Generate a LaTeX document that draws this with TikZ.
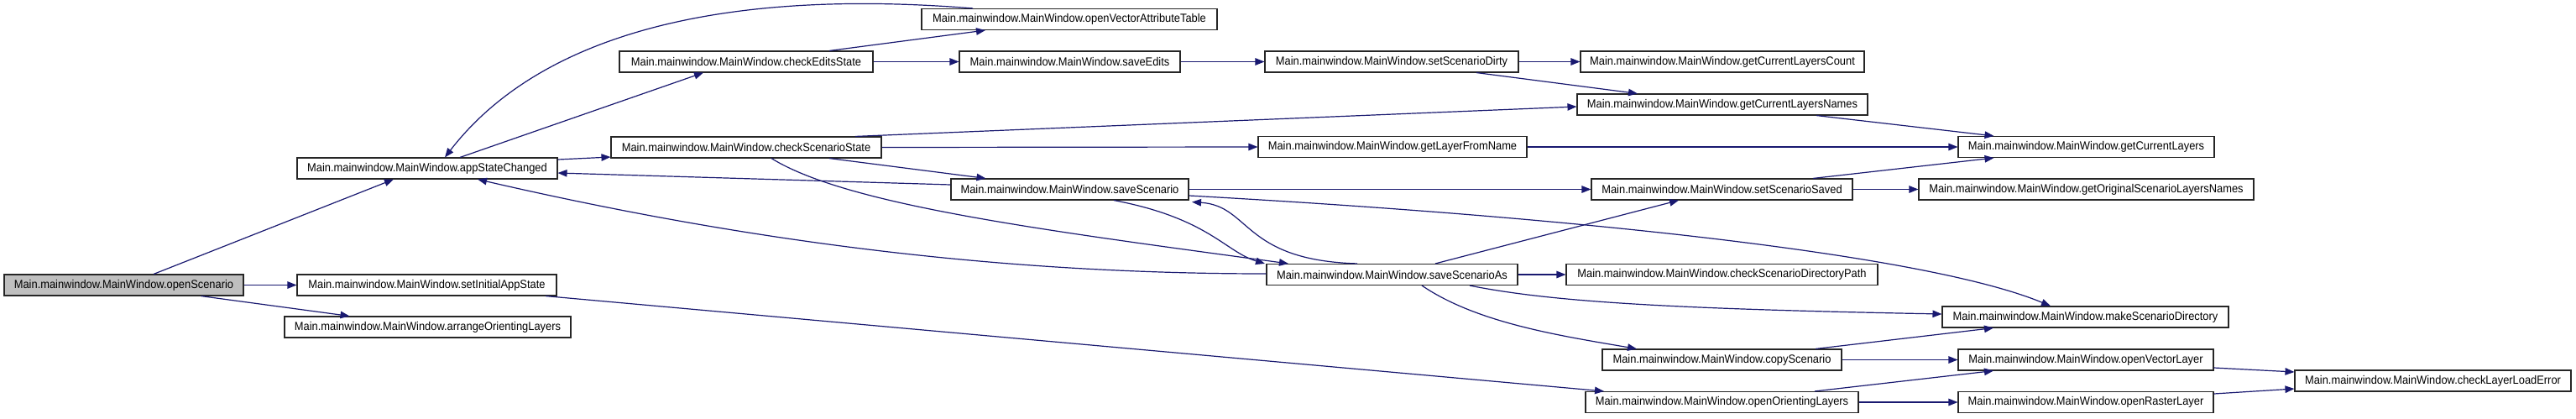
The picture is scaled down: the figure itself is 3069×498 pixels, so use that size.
\documentclass[tikz,border=0pt]{standalone}
\usepackage{fontspec}
\setmainfont{Liberation Sans}[FakeStretch=0.92]
\usetikzlibrary{arrows.meta}
\definecolor{edgec}{HTML}{191970}
\definecolor{boxgray}{HTML}{BFBFBF}
\tikzset{
  fn/.style={draw=black!85, line width=1.1pt, fill=white, inner sep=0pt, minimum height=25pt,
    font=\fontsize{14}{16}\selectfont, text=black},
  cur/.style={fn, fill=boxgray},
  call/.style={draw=edgec, line width=1.2pt, -{Triangle[length=11pt,width=8.5pt]}, edgec},
}
\begin{document}
\begin{tikzpicture}[x=1pt,y=-1pt]
\useasboundingbox (0,0) rectangle (3069,498);
\fill[white] (0,0) rectangle (3069,498);
% nodes
\node[cur, minimum width=285] (openScenario) at (147.5,339.5) {Main.mainwindow.MainWindow.openScenario};
\node[fn, minimum width=310] (appStateChanged) at (509,200.5) {Main.mainwindow.MainWindow.appStateChanged};
\node[fn, minimum width=309] (setInitialAppState) at (508.5,339.5) {Main.mainwindow.MainWindow.setInitialAppState};
\node[fn, minimum width=341] (arrangeOrientingLayers) at (509.5,389.5) {Main.mainwindow.MainWindow.arrangeOrientingLayers};
\node[fn, minimum width=352] (openVectorAttributeTable) at (1274,23) {Main.mainwindow.MainWindow.openVectorAttributeTable};
\node[fn, minimum width=302] (checkEditsState) at (889,73.5) {Main.mainwindow.MainWindow.checkEditsState};
\node[fn, minimum width=263] (saveEdits) at (1274.5,73.5) {Main.mainwindow.MainWindow.saveEdits};
\node[fn, minimum width=322] (checkScenarioState) at (889,175.5) {Main.mainwindow.MainWindow.checkScenarioState};
\node[fn, minimum width=283] (saveScenario) at (1274.5,225.5) {Main.mainwindow.MainWindow.saveScenario};
\node[fn, minimum width=302] (setScenarioDirty) at (1658,73.5) {Main.mainwindow.MainWindow.setScenarioDirty};
\node[fn, minimum width=338] (getCurrentLayersCount) at (2052,73.5) {Main.mainwindow.MainWindow.getCurrentLayersCount};
\node[fn, minimum width=346] (getCurrentLayersNames) at (2052,124.5) {Main.mainwindow.MainWindow.getCurrentLayersNames};
\node[fn, minimum width=320] (getLayerFromName) at (1659,175) {Main.mainwindow.MainWindow.getLayerFromName};
\node[fn, minimum width=311] (setScenarioSaved) at (2051.5,225.5) {Main.mainwindow.MainWindow.setScenarioSaved};
\node[fn, minimum width=299] (saveScenarioAs) at (1658.5,327) {Main.mainwindow.MainWindow.saveScenarioAs};
\node[fn, minimum width=371] (checkScenarioDirectoryPath) at (2051.5,327) {Main.mainwindow.MainWindow.checkScenarioDirectoryPath};
\node[fn, minimum width=285] (copyScenario) at (2051.5,428.5) {Main.mainwindow.MainWindow.copyScenario};
\node[fn, minimum width=325] (openOrientingLayers) at (2051.5,479) {Main.mainwindow.MainWindow.openOrientingLayers};
\node[fn, minimum width=305] (getCurrentLayers) at (2485.5,175) {Main.mainwindow.MainWindow.getCurrentLayers};
\node[fn, minimum width=399] (getOriginalScenarioLayersNames) at (2485.5,225.5) {Main.mainwindow.MainWindow.getOriginalScenarioLayersNames};
\node[fn, minimum width=341] (makeScenarioDirectory) at (2484.5,377.5) {Main.mainwindow.MainWindow.makeScenarioDirectory};
\node[fn, minimum width=304] (openVectorLayer) at (2485,428.5) {Main.mainwindow.MainWindow.openVectorLayer};
\node[fn, minimum width=304] (openRasterLayer) at (2485,479) {Main.mainwindow.MainWindow.openRasterLayer};
\node[fn, minimum width=329] (checkLayerLoadError) at (2898.5,453.5) {Main.mainwindow.MainWindow.checkLayerLoadError};
% edges
\draw[call] ([xshift=35.5pt]openScenario.north) -- ([xshift=-40pt]appStateChanged.south);
\draw[call] (openScenario.east) -- (setInitialAppState.west);
\draw[call] ([xshift=92pt]openScenario.south) -- ([xshift=-93pt]arrangeOrientingLayers.north);
\draw[call] ([xshift=39pt]appStateChanged.north) -- ([xshift=-51pt]checkEditsState.south);
\draw[call] ([yshift=10.5pt]appStateChanged.east) -- ([yshift=-11.5pt]checkScenarioState.west);
\draw[call] ([xshift=-115pt]openVectorAttributeTable.north) .. controls (850,-15) and (640,45) .. ([xshift=21pt]appStateChanged.north);
\draw[call] ([xshift=99pt]checkEditsState.north) -- ([xshift=-100pt]openVectorAttributeTable.south);
\draw[call] (checkEditsState.east) -- (saveEdits.west);
\draw[call] (saveEdits.east) -- (setScenarioDirty.west);
\draw[call] (setScenarioDirty.east) -- (getCurrentLayersCount.west);
\draw[call] ([xshift=101pt]setScenarioDirty.south) -- ([xshift=-101pt]getCurrentLayersNames.north);
\draw[call] ([xshift=130pt]checkScenarioState.north) -- ([yshift=-2.5pt]getCurrentLayersNames.west);
\draw[call] (checkScenarioState.east) -- (getLayerFromName.west);
\draw[call] ([xshift=99pt]checkScenarioState.south) -- ([xshift=-100pt]saveScenario.north);
\draw[call] ([xshift=30pt]checkScenarioState.south) .. controls (1010,245) and (1250,275) .. ([xshift=-123.5pt]saveScenarioAs.north);
\draw[call] ([yshift=5.5pt]saveScenario.west) -- ([yshift=-5.5pt]appStateChanged.east);
\draw[call] ([yshift=1pt]saveScenarioAs.west) .. controls (1200,326) and (900,290) .. ([xshift=60pt]appStateChanged.south);
\draw[call] ([xshift=112pt]getCurrentLayersNames.south) -- ([xshift=-110pt]getCurrentLayers.north);
\draw[call] (getLayerFromName.east) -- (getCurrentLayers.west);
\draw[call] ([xshift=108.5pt]setScenarioSaved.north) -- ([xshift=-110pt]getCurrentLayers.south);
\draw[call] (setScenarioSaved.east) -- (getOriginalScenarioLayersNames.west);
\draw[call] (saveScenario.east) -- (setScenarioSaved.west);
\draw[call] ([yshift=-7.5pt]saveScenario.east) .. controls (1900,260) and (2300,305) .. ([xshift=-41.5pt]makeScenarioDirectory.north);
\draw[call] ([xshift=52.5pt]saveScenario.south) .. controls (1440,260) and (1460,300) .. ([xshift=-151.5pt]saveScenarioAs.north);
\draw[call] ([xshift=-41.5pt]saveScenarioAs.north) .. controls (1480,310) and (1490,245) .. ([xshift=145.5pt,yshift=-2pt]saveScenario.south);
\draw[call] ([xshift=51.5pt]saveScenarioAs.north) -- ([xshift=-51.5pt]setScenarioSaved.south);
\draw[call] (saveScenarioAs.east) -- (checkScenarioDirectoryPath.west);
\draw[call] ([xshift=92.5pt]saveScenarioAs.south) .. controls (1850,360) and (2000,368) .. ([yshift=3.5pt]makeScenarioDirectory.west);
\draw[call] ([xshift=35.5pt]saveScenarioAs.south) .. controls (1760,385) and (1860,400) .. ([xshift=-101.5pt]copyScenario.north);
\draw[call] ([xshift=111.5pt]copyScenario.north) -- ([xshift=-109.5pt]makeScenarioDirectory.south);
\draw[call] (copyScenario.east) -- (openVectorLayer.west);
\draw[call] ([xshift=141.5pt]setInitialAppState.south) -- ([xshift=-140.5pt]openOrientingLayers.north);
\draw[call] ([xshift=110.5pt]openOrientingLayers.north) -- ([xshift=-110pt]openVectorLayer.south);
\draw[call] (openOrientingLayers.east) -- (openRasterLayer.west);
\draw[call] ([yshift=-9.5pt]openVectorLayer.east) -- ([yshift=10.5pt]checkLayerLoadError.west);
\draw[call] ([yshift=10pt]openRasterLayer.east) -- ([yshift=-9.5pt]checkLayerLoadError.west);
\end{tikzpicture}
\end{document}
